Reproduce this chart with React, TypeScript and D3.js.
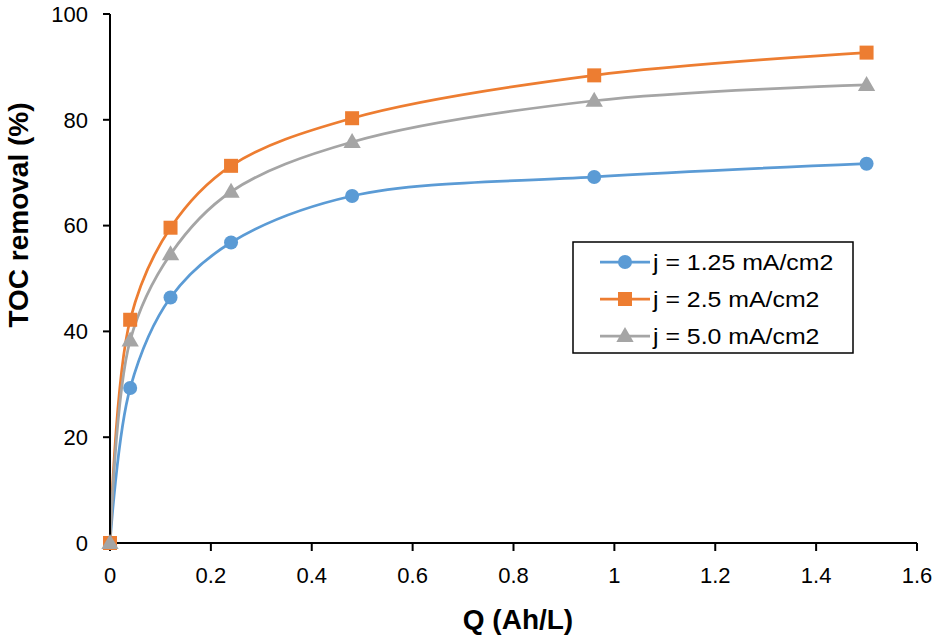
import * as d3 from 'd3';

const W = 935;
const H = 640;

// charge passed (Ah/L) and TOC removal (%) per current density
const charge = [0, 0.04, 0.12, 0.24, 0.48, 0.96, 1.5];
const toc125 = [0, 29.3, 46.4, 56.8, 65.6, 69.2, 71.7];
const toc25 = [0, 42.2, 59.6, 71.3, 80.3, 88.4, 92.7];
const toc50 = [0, 38.3, 54.6, 66.4, 75.8, 83.6, 86.6];

const xTicks = [0, 0.2, 0.4, 0.6, 0.8, 1, 1.2, 1.4, 1.6];
const yTicks = [0, 20, 40, 60, 80, 100];

const series = [
  { name: 'j = 1.25 mA/cm2', values: toc125, color: '#5B9BD5', marker: 'circle' },
  { name: 'j = 2.5 mA/cm2', values: toc25, color: '#ED7D31', marker: 'square' },
  { name: 'j = 5.0 mA/cm2', values: toc50, color: '#A5A5A5', marker: 'triangle' },
];

const x = d3.scaleLinear([0, 1.6], [110, 917]);
const y = d3.scaleLinear([0, 100], [543, 14]);

const font = "'Liberation Sans', Arial, sans-serif";

function Marker({ kind, cx, cy, color }: { kind: string; cx: number; cy: number; color: string }) {
  if (kind === 'circle') return <circle cx={cx} cy={cy} r={7} fill={color} />;
  if (kind === 'square') return <rect x={cx - 7} y={cy - 7} width={14} height={14} fill={color} />;
  const sym = d3.symbol(d3.symbolTriangle, 130)();
  return <path d={sym ?? ''} transform={`translate(${cx},${cy + 1})`} fill={color} />;
}

export default function App() {
  const line = d3.line<[number, number]>()
    .x(d => x(d[0])).y(d => y(d[1]))
    .curve(d3.curveCatmullRom.alpha(0.5));

  const legendRows = [262, 299, 336];

  return (
    <svg width={W} height={H} style={{ position: 'absolute', left: 0, top: 0, background: '#fff' }}
      fontFamily={font}>
      {/* lines */}
      {series.map(s => (
        <path key={s.name} d={line(charge.map((c, i) => [c, s.values[i]] as [number, number])) ?? ''}
          fill="none" stroke={s.color} strokeWidth={2.75} />
      ))}

      {/* axes */}
      <line x1={x(0)} x2={x(0)} y1={y(0)} y2={y(100)} stroke="#000" strokeWidth={2} />
      <line x1={x(0)} x2={x(1.6)} y1={y(0)} y2={y(0)} stroke="#000" strokeWidth={2} />
      {yTicks.map(t => (
        <g key={'y' + t}>
          <line x1={x(0) - 7} x2={x(0)} y1={y(t)} y2={y(t)} stroke="#000" strokeWidth={2} />
          <text x={88} y={y(t)} dy="0.35em" textAnchor="end" fontSize={22} fill="#000">{t}</text>
        </g>
      ))}
      {xTicks.map(t => (
        <g key={'x' + t}>
          <line x1={x(t)} x2={x(t)} y1={y(0)} y2={y(0) + 8} stroke="#000" strokeWidth={2} />
          <text x={x(t)} y={583} textAnchor="middle" fontSize={22} fill="#000">{t}</text>
        </g>
      ))}

      {/* markers */}
      {series.map(s => charge.map((c, i) => (
        <Marker key={s.name + i} kind={s.marker} cx={x(c)} cy={y(s.values[i])} color={s.color} />
      )))}

      {/* axis titles */}
      <text x={518} y={629} textAnchor="middle" fontSize={28} fontWeight="bold" fill="#000">Q (Ah/L)</text>
      <text transform="translate(28,215) rotate(-90)" textAnchor="middle" fontSize={28} fontWeight="bold" fill="#000">
        TOC removal (%)
      </text>

      {/* legend */}
      <rect x={573} y={242} width={280} height={111} fill="#fff" stroke="#000" strokeWidth={1.5} />
      {series.map((s, i) => (
        <g key={'lg' + s.name}>
          <line x1={600} x2={650} y1={legendRows[i]} y2={legendRows[i]} stroke={s.color} strokeWidth={2.75} />
          <Marker kind={s.marker} cx={625} cy={legendRows[i]} color={s.color} />
          <text transform={`translate(653,${legendRows[i]}) scale(1.13,1)`} dy="0.35em" fontSize={22} fill="#000">
            {s.name}
          </text>
        </g>
      ))}
    </svg>
  );
}
